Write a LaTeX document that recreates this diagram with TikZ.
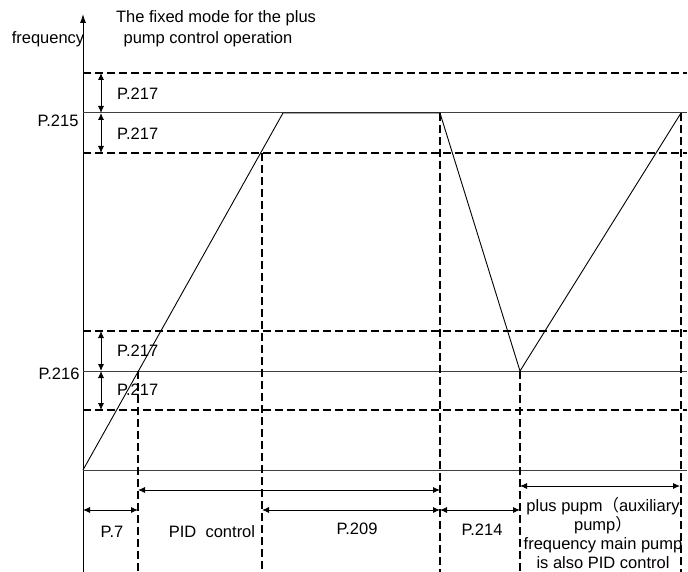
\documentclass[tikz,border=0pt]{standalone}
\usepackage{fontspec}
\setmainfont{Liberation Sans}
\newfontfamily\cjk{Noto Sans CJK SC}
\usetikzlibrary{arrows.meta}
\definecolor{bk75}{HTML}{404040}

\begin{document}
\begin{tikzpicture}[x=1pt, y=-1pt,
  font=\fontsize{16.5}{19.5}\selectfont,
  solidline/.style={draw=bk75, line width=1pt},
  dashline/.style={draw=black, line width=1.8pt, dash pattern=on 8pt off 4pt},
  rampline/.style={draw=black, line width=0.9pt},
  dimarrow/.style={draw=black, line width=0.9pt,
    {Latex[length=7pt,width=6pt]}-{Latex[length=7pt,width=6pt]}},
  lbl/.style={inner sep=0pt}]
  \useasboundingbox (0,0) rectangle (688,572);

  % Frequency axis
  \coordinate (axbot) at (83,572);
  \coordinate (axtop) at (83,14);
  \draw[black, line width=0.9pt, -{Latex[length=9pt,width=6pt]}] (axbot) -- (axtop);

  % Levels: P.215 and P.216 with their P.217 bands, and the start level
  \foreach \nm/\yy in {hiup/73, hi/113, hilo/153, loup/331, lo/371, lolo/410, base/470} {
    \coordinate (\nm-l) at (83,\yy);
    \coordinate (\nm-r) at (687,\yy);
  }
  \draw[dashline] (hiup-l) -- (hiup-r);
  \draw[solidline] (hi-l) -- (hi-r);
  \draw[dashline] (hilo-l) -- (hilo-r);
  \draw[dashline] (loup-l) -- (loup-r);
  \draw[solidline] (lo-l) -- (lo-r);
  \draw[dashline] (lolo-l) -- (lolo-r);
  \draw[solidline] (base-l) -- (base-r);

  % Time marks
  \foreach \nm/\xx/\yy in {va/138/371, vb/262/153, vc/440/113, vd/520/371, ve/681/113} {
    \coordinate (\nm-t) at (\xx,\yy);
    \coordinate (\nm-b) at (\xx,572);
  }
  \foreach \nm in {va, vb, vc, vd, ve}
    \draw[dashline] (\nm-t) -- (\nm-b);

  % Frequency curve
  \coordinate (peak1) at (283,113);
  \draw[rampline] (base-l) -- (peak1) -- (vc-t) -- (vd-t) -- (ve-t);

  % P.217 bands
  \coordinate (b1) at (101,73);
  \coordinate (b2) at (101,113);
  \coordinate (b3) at (101,153);
  \coordinate (b4) at (101,331);
  \coordinate (b5) at (101,371);
  \coordinate (b6) at (101,410);
  \draw[dimarrow] (b1) -- (b2);
  \draw[dimarrow] (b2) -- (b3);
  \draw[dimarrow] (b4) -- (b5);
  \draw[dimarrow] (b5) -- (b6);

  % Time spans
  \coordinate (t0) at (83,510);
  \coordinate (t1) at (138,510);
  \coordinate (t2) at (262,510);
  \coordinate (t3) at (440,510);
  \coordinate (t4) at (520,510);
  \coordinate (s1) at (138,490);
  \coordinate (s2) at (440,490);
  \coordinate (u1) at (520,486);
  \coordinate (u2) at (680,486);
  \draw[dimarrow] (s1) -- (s2);
  \draw[dimarrow] (t0) -- (t1);
  \draw[dimarrow] (t2) -- (t3);
  \draw[dimarrow] (t3) -- (t4);
  \draw[dimarrow] (u1) -- (u2);

  % Labels
  \node[lbl] (ttl1) at (216,18) {The fixed mode for the plus};
  \node[lbl] (ttl2) at (208,39) {pump control operation};
  \node[lbl] (freq) at (48,39) {frequency};
  \node[lbl] (p215) at (58,121) {P.215};
  \node[lbl] (p216) at (59,374) {P.216};
  \node[lbl, anchor=west] (w1) at (117,94) {P.217};
  \node[lbl, anchor=west] (w2) at (117,134) {P.217};
  \node[lbl, anchor=west] (w3) at (117,351) {P.217};
  \node[lbl, anchor=west] (w4) at (117,390) {P.217};
  \node[lbl] (p7) at (112,532) {P.7};
  \node[lbl] (pid) at (212,532) {PID\ \ control};
  \node[lbl] (p209) at (357,529) {P.209};
  \node[lbl] (p214) at (482,530) {P.214};
  \node[lbl, align=center, font=\fontsize{16.5}{18.8}\selectfont] (plus) at (603,533)
    {plus pupm{\cjk （}auxiliary\\pump{\cjk ）}\\frequency main pump\\is also PID control};
\end{tikzpicture}
\end{document}
